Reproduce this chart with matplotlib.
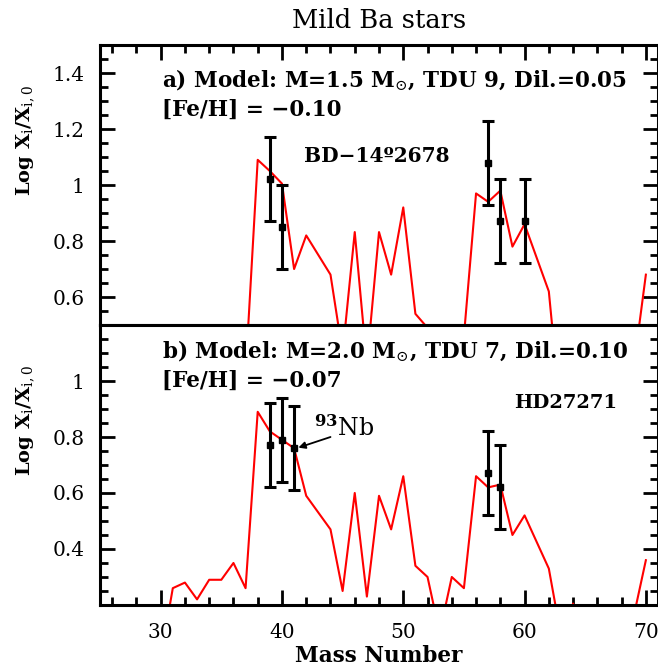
import matplotlib
matplotlib.use("Agg")
import matplotlib.pyplot as plt
from matplotlib.ticker import MultipleLocator, FormatStrFormatter

plt.rcParams['font.family'] = 'DejaVu Serif'
plt.rcParams['mathtext.fontset'] = 'dejavuserif'

# model curves (atomic number -> log X/Xo), Tc (43) and Pm (61) skipped
z_model = [30, 31, 32, 33, 34, 35, 36, 37, 38, 39, 40, 41, 42, 44, 45, 46, 47, 48,
           49, 50, 51, 52, 53, 54, 55, 56, 57, 58, 59, 60, 62, 63, 64, 65, 66, 67,
           68, 69, 70]
model_a = [0.15, 0.25, 0.27, 0.22, 0.30, 0.30, 0.36, 0.33, 1.09, 1.05, 1.005, 0.70,
           0.82, 0.68, 0.40, 0.832, 0.36, 0.832, 0.68, 0.92, 0.54, 0.49, 0.30, 0.48,
           0.46, 0.97, 0.94, 0.98, 0.78, 0.86, 0.62, 0.17, 0.40, 0.25, 0.22, 0.20,
           0.25, 0.35, 0.68]
model_b = [0.01, 0.26, 0.28, 0.22, 0.29, 0.29, 0.35, 0.26, 0.89, 0.82, 0.79, 0.76,
           0.59, 0.47, 0.25, 0.60, 0.23, 0.59, 0.47, 0.66, 0.34, 0.30, 0.10, 0.30,
           0.26, 0.66, 0.62, 0.63, 0.45, 0.52, 0.33, 0.09, 0.205, 0.05, 0.03, 0.02,
           0.05, 0.16, 0.36]

# observed abundances
z_obs_a = [39, 40, 57, 58, 60]
obs_a = [1.02, 0.85, 1.08, 0.87, 0.87]
err_a = [0.15, 0.15, 0.15, 0.15, 0.15]

z_obs_b = [39, 40, 41, 57, 58]
obs_b = [0.77, 0.79, 0.76, 0.67, 0.62]
err_b = [0.15, 0.15, 0.15, 0.15, 0.15]

fig = plt.figure(figsize=(6.58, 6.67), dpi=100)
ax1 = fig.add_axes([0.152, 0.5127, 0.848, 0.4198])
ax2 = fig.add_axes([0.152, 0.093, 0.848, 0.4197])


def style_axis(ax, ylim, top):
    ax.set_xlim(25, 71)
    ax.set_ylim(*ylim)
    for s in ax.spines.values():
        s.set_linewidth(2.2)
    ax.xaxis.set_major_locator(MultipleLocator(10))
    ax.xaxis.set_minor_locator(MultipleLocator(2))
    ax.yaxis.set_major_locator(MultipleLocator(0.2))
    ax.yaxis.set_minor_locator(MultipleLocator(0.05))
    ax.yaxis.set_major_formatter(FormatStrFormatter('%g'))
    ax.tick_params(which='both', direction='in', width=2, left=True, right=True,
                   top=top, bottom=not top, labeltop=False, labelbottom=not top,
                   labelsize=14.5)
    ax.tick_params(axis='y', pad=11)
    ax.tick_params(axis='x', pad=13)
    ax.tick_params(which='major', length=11)
    ax.tick_params(which='minor', length=6)
    ax.set_ylabel(r'Log X$_{\rm i}$/X$_{\rm i,0}$', fontsize=14, fontweight='bold')
    ax.yaxis.set_label_coords(-0.113, 0.66)


style_axis(ax1, (0.5, 1.5), True)
style_axis(ax2, (0.2, 1.2), False)
ax1.set_yticks([0.6, 0.8, 1.0, 1.2, 1.4])
ax2.set_yticks([0.4, 0.6, 0.8, 1.0])

ax1.plot(z_model, model_a, color='red', lw=1.5)
ax1.errorbar(z_obs_a, obs_a, yerr=err_a, fmt='s', color='black', ms=5,
             elinewidth=2.2, capsize=4.5, capthick=2.2)

ax2.plot(z_model, model_b, color='red', lw=1.5)
ax2.errorbar(z_obs_b, obs_b, yerr=err_b, fmt='s', color='black', ms=5,
             elinewidth=2.2, capsize=4.5, capthick=2.2)

ax1.text(30.15, 1.375, r'a) Model: M=1.5 M$_{\odot}$, TDU 9, Dil.=0.05',
         fontsize=15.5, fontweight='bold', va='center')
ax1.text(30.15, 1.27, '[Fe/H] = \u22120.10', fontsize=15.5, fontweight='bold',
         va='center')
ax1.text(47.8, 1.105, 'BD\u221214\u00ba2678', fontsize=14.5, fontweight='bold',
         ha='center', va='center')

ax2.text(30.15, 1.107, r'b) Model: M=2.0 M$_{\odot}$, TDU 7, Dil.=0.10',
         fontsize=15.5, fontweight='bold', va='center')
ax2.text(30.15, 1.0, '[Fe/H] = \u22120.07', fontsize=15.5, fontweight='bold',
         va='center')
ax2.text(63.4, 0.922, 'HD27271', fontsize=14, fontweight='bold', ha='center',
         va='center')
ax2.text(42.6, 0.83, r'$^{\mathbf{93}}$Nb', fontsize=17, va='center')
ax2.annotate('', xy=(41.35, 0.762), xytext=(44.0, 0.80),
             arrowprops=dict(arrowstyle='-|>', color='black', lw=1.3,
                             shrinkA=0, shrinkB=0, mutation_scale=10))

ax2.set_xlabel('Mass Number', fontsize=15.5, fontweight='bold', labelpad=2)
ax1.set_title('Mild Ba stars', fontsize=18.5, pad=12)

plt.savefig('out.png', dpi=100)
